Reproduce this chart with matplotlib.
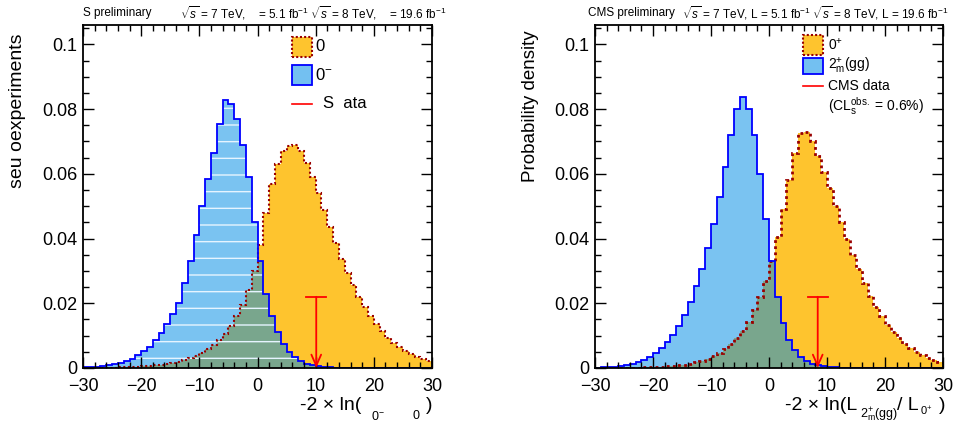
import numpy as np
import matplotlib
matplotlib.use("Agg")
import matplotlib.pyplot as plt
from matplotlib.patches import Rectangle
from matplotlib.ticker import MultipleLocator, FuncFormatter

plt.rcParams['font.family'] = ['Liberation Sans', 'DejaVu Sans']
plt.rcParams['mathtext.fontset'] = 'custom'
plt.rcParams['mathtext.rm'] = 'Liberation Sans'
plt.rcParams['mathtext.it'] = 'Liberation Sans:italic'
plt.rcParams['mathtext.bf'] = 'Liberation Sans:bold'

# bin edges, 1 unit wide from -30 to 30
edges = np.arange(-30, 31, 1)

# left plot: pseudo-experiment distributions
left_sm = [0, 0, 0, 0, 0.0001, 0.0001, 0.0002, 0.0002, 0.0003, 0.0004,
           0.0005, 0.0006, 0.0008, 0.0010, 0.0013, 0.0016, 0.0020, 0.0025, 0.0031, 0.0038,
           0.0047, 0.0058, 0.0071, 0.0087, 0.0106, 0.0130, 0.0160, 0.0196, 0.0240, 0.0300,
           0.0380, 0.0480, 0.0570, 0.0630, 0.0670, 0.0685, 0.0688, 0.0670, 0.0635, 0.0590,
           0.0540, 0.0488, 0.0435, 0.0385, 0.0338, 0.0295, 0.0256, 0.0220, 0.0188, 0.0160,
           0.0135, 0.0113, 0.0094, 0.0078, 0.0064, 0.0052, 0.0042, 0.0034, 0.0027, 0.0021]
left_alt = [0.0002, 0.0003, 0.0004, 0.0006, 0.0008, 0.0011, 0.0015, 0.0021, 0.0029, 0.0039,
            0.0051, 0.0066, 0.0085, 0.0108, 0.0135, 0.0166, 0.0202, 0.0262, 0.0330, 0.0410,
            0.0500, 0.0585, 0.0665, 0.0755, 0.0828, 0.0815, 0.0770, 0.0690, 0.0590, 0.0450,
            0.0330, 0.0230, 0.0160, 0.0110, 0.0075, 0.0050, 0.0033, 0.0021, 0.0013, 0.0008,
            0.0005, 0.0003, 0.0002, 0.0001, 0, 0, 0, 0, 0, 0,
            0, 0, 0, 0, 0, 0, 0, 0, 0, 0]
left_obs = 10.1

# right plot
right_sm = [0, 0, 0, 0, 0, 0.0001, 0.0001, 0.0001, 0.0002, 0.0002,
            0.0003, 0.0004, 0.0005, 0.0006, 0.0008, 0.0010, 0.0013, 0.0017, 0.0022, 0.0028,
            0.0036, 0.0046, 0.0058, 0.0073, 0.0092, 0.0115, 0.0143, 0.0178, 0.0220, 0.0270,
            0.0330, 0.0405, 0.0490, 0.0580, 0.0665, 0.0725, 0.0728, 0.0700, 0.0655, 0.0605,
            0.0555, 0.0502, 0.0450, 0.0398, 0.0350, 0.0305, 0.0262, 0.0224, 0.0190, 0.0160,
            0.0134, 0.0111, 0.0092, 0.0075, 0.0061, 0.0049, 0.0039, 0.0031, 0.0024, 0.0019]
right_alt = [0.0001, 0.0002, 0.0003, 0.0004, 0.0006, 0.0009, 0.0013, 0.0018, 0.0025, 0.0034,
             0.0046, 0.0061, 0.0080, 0.0103, 0.0131, 0.0165, 0.0205, 0.0252, 0.0305, 0.0370,
             0.0445, 0.0530, 0.0620, 0.0720, 0.0800, 0.0838, 0.0800, 0.0720, 0.0600, 0.0460,
             0.0330, 0.0220, 0.0140, 0.0088, 0.0055, 0.0034, 0.0021, 0.0013, 0.0008, 0.0005,
             0.0003, 0.0002, 0.0001, 0, 0, 0, 0, 0, 0, 0,
             0, 0, 0, 0, 0, 0, 0, 0, 0, 0]
right_obs = 8.4
obs_height = 0.022

ORANGE = '#fec42e'
DARKRED = '#990000'
BLUE_FILL = '#008ce6'
W, H = 955, 426

fig = plt.figure(figsize=(9.55, 4.26), dpi=100)
ax1 = fig.add_axes([83 / W, 1 - 368 / H, 349 / W, 343 / H])
ax2 = fig.add_axes([595 / W, 1 - 368 / H, 348 / W, 343 / H])


def draw_panel(ax, sm, alt, obs, white_lines, dotted_lw):
    ax.stairs(sm, edges, fill=True, color=ORANGE, lw=0)
    ax.stairs(alt, edges, fill=True, color=BLUE_FILL, alpha=0.52, lw=0)
    if white_lines:
        ax.stairs(alt, edges, fill=True, facecolor='none', edgecolor='#e6f4ff',
                  hatch='-', lw=0)
    ax.stairs(sm, edges, color=DARKRED, lw=dotted_lw, ls=(0, (1, 1.2)))
    ax.stairs(alt, edges, color='#0000ff', lw=1.3)
    # observed value
    ax.annotate('', xy=(obs, 0), xytext=(obs, obs_height),
                arrowprops=dict(arrowstyle='->,head_length=0.8,head_width=0.35',
                                color='red', lw=1.3, shrinkA=0, shrinkB=0))
    ax.plot([obs - 1.7, obs + 1.7], [obs_height, obs_height], color='red', lw=1.3)

    ax.set_xlim(-30, 30)
    ax.set_ylim(0, 0.106)
    ax.xaxis.set_major_locator(MultipleLocator(10))
    ax.xaxis.set_minor_locator(MultipleLocator(2))
    ax.yaxis.set_major_locator(MultipleLocator(0.02))
    ax.yaxis.set_minor_locator(MultipleLocator(0.005))
    ax.yaxis.set_major_formatter(FuncFormatter(lambda v, p: '%g' % round(v, 3)))
    ax.tick_params(which='both', direction='in', top=True, right=True, width=1)
    ax.tick_params(which='major', length=8, labelsize=13, pad=4)
    ax.tick_params(which='minor', length=4)
    ax.tick_params(axis='x', pad=7)
    for s in ax.spines.values():
        s.set_linewidth(1.3)


draw_panel(ax1, left_sm, left_alt, left_obs, True, 1.5)
draw_panel(ax2, right_sm, right_alt, right_obs, False, 2.0)


def ftext(x, y, s, **kw):
    fig.text(x / W, 1 - y / H, s, **kw)


# headers
ftext(83, 13, 'S preliminary', fontsize=8.5, va='center')
ftext(180, 13, r'$\sqrt{s}$ = 7 TeV,    = 5.1 fb$^{-1}$ $\sqrt{s}$ = 8 TeV,    = 19.6 fb$^{-1}$',
      fontsize=8.5, va='center')
ftext(588, 13, 'CMS preliminary', fontsize=8.5, va='center')
ftext(682, 13, r'$\sqrt{s}$ = 7 TeV, L = 5.1 fb$^{-1}$ $\sqrt{s}$ = 8 TeV, L = 19.6 fb$^{-1}$',
      fontsize=8.5, va='center')

# y titles
ftext(18, 33, 'seu oexperiments', fontsize=14, rotation=90, ha='center', va='top')
ftext(530, 30, 'Probability density', fontsize=13.5, rotation=90, ha='center', va='top')

# x titles
ftext(361, 405, '-2 × ln(', fontsize=14, ha='right', va='center')
ftext(378, 416, r'0$^{-}$', fontsize=9, ha='center', va='center')
ftext(416, 416, '0', fontsize=9, ha='center', va='center')
ftext(429, 405, ')', fontsize=14, ha='center', va='center')

ftext(857, 405, '-2 × ln(L', fontsize=14, ha='right', va='center')
ftext(879, 415, r'2$^{+}_{\mathrm{m}}$(gg)', fontsize=9, ha='center', va='center')
ftext(897, 405, '/ L', fontsize=14, ha='left', va='center')
ftext(920, 411, r'0$^{+}$', fontsize=8, ha='left', va='center')
ftext(942, 405, ')', fontsize=14, ha='center', va='center')


def legend_box(ax, x0, y0, w, h, style):
    if style == 'sm':
        ax.add_patch(Rectangle((x0, y0), w, h, transform=ax.transAxes, facecolor=ORANGE,
                               edgecolor=DARKRED, lw=1.5, ls=(0, (1, 1)), zorder=5))
    else:
        ax.add_patch(Rectangle((x0, y0), w, h, transform=ax.transAxes, facecolor='#73c0f1',
                               edgecolor='#0000ff', lw=1.3, zorder=5))


# left legend
legend_box(ax1, 0.599, 0.908, 0.057, 0.058, 'sm')
legend_box(ax1, 0.599, 0.825, 0.057, 0.058, 'alt')
ax1.plot([0.599, 0.656], [0.770, 0.770], color='red', lw=1.2, transform=ax1.transAxes)
ax1.text(0.665, 0.937, '0', transform=ax1.transAxes, fontsize=12, va='center')
ax1.text(0.665, 0.854, r'0$^{-}$', transform=ax1.transAxes, fontsize=12, va='center')
ax1.text(0.688, 0.770, 'S  ata', transform=ax1.transAxes, fontsize=12, va='center')

# right legend
legend_box(ax2, 0.598, 0.913, 0.057, 0.058, 'sm')
legend_box(ax2, 0.598, 0.857, 0.057, 0.047, 'alt')
ax2.plot([0.598, 0.655], [0.822, 0.822], color='red', lw=1.2, transform=ax2.transAxes)
ax2.text(0.670, 0.942, r'0$^{+}$', transform=ax2.transAxes, fontsize=10, va='center')
ax2.text(0.670, 0.880, r'2$^{+}_{\mathrm{m}}$(gg)', transform=ax2.transAxes, fontsize=10,
         va='center')
ax2.text(0.670, 0.822, 'CMS data', transform=ax2.transAxes, fontsize=10, va='center')
ax2.text(0.670, 0.765, r'(CL$_{\mathrm{s}}^{\mathrm{obs.}}$ = 0.6%)', transform=ax2.transAxes,
         fontsize=10, va='center')

fig.savefig('out.png', dpi=100)
